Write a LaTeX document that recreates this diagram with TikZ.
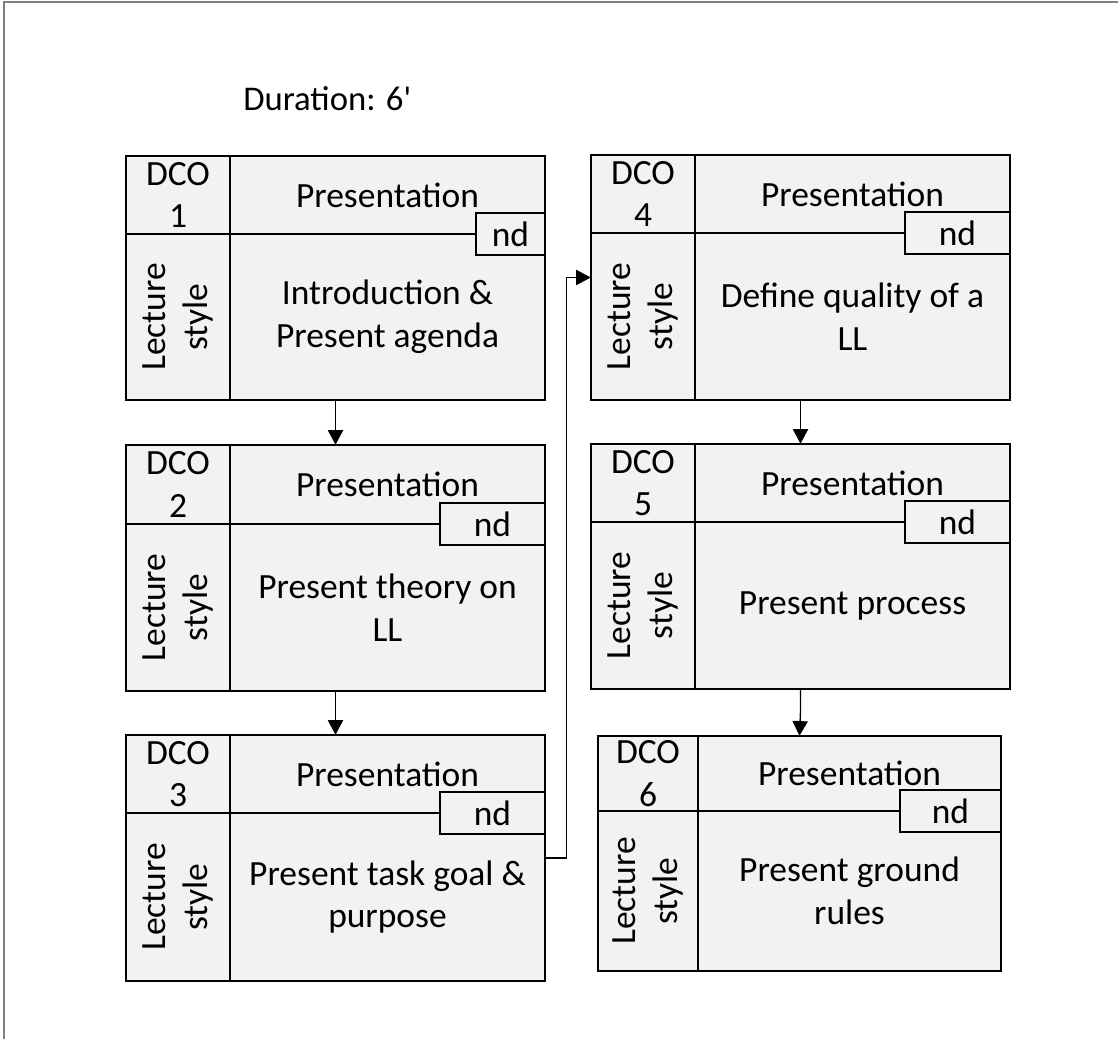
\documentclass[tikz,border=0pt]{standalone}
\usepackage{fontspec}
\setmainfont{Carlito}
\newfontfamily\plainfont{Carlito}
\usetikzlibrary{arrows.meta}
\definecolor{boxfill}{HTML}{F2F2F2}
\definecolor{framegray}{HTML}{808080}
\tikzset{
  dcobox/.style={fill=boxfill, draw=none, inner sep=0pt},
  outerline/.style={draw=black, line width=1.7pt},
  divider/.style={draw=black, line width=1.1pt},
  ndbox/.style={fill=boxfill, draw=black, line width=1.1pt, inner sep=0pt,
    minimum height={42*0.75pt}, font=\fontsize{26.6}{32}\selectfont},
  txt/.style={font=\fontsize{26.6}{32}\selectfont, align=center, inner sep=0pt},
  conn/.style={draw=black, line width=1pt, -{Triangle[length=11pt,width=11.5pt]}},
}
% #1 number, #2 left, #3 top, #4 right, #5 bottom, #6 column divider x, #7 header line y, #8 nd left, #9 activity
\newcommand{\dcoitem}[9]{%
  \node[dcobox, minimum width={(#4-#2)*0.75pt}, minimum height={(#5-#3)*0.75pt}] (b#1) at ({(#2+#4)/2},{(#3+#5)/2}) {};
  \draw[divider] (#6,#3) -- (#6,#5);
  \draw[divider] (#2,#7) -- (#8,#7);
  \node[txt] (dco#1) at ({(#2+#6)/2},{(#3+#7)/2}) {DCO\\#1};
  \node[txt] (pr#1) at ({(#6+#4)/2},{(#3+#7)/2}) {Presentation};
  \node[ndbox, minimum width={(#4-#8)*0.75pt}] (nd#1) at ({(#8+#4)/2},#7) {nd};
  \node[txt, rotate=90] (ls#1) at ({(#2+#6)/2},{(#7+#5)/2}) {Lecture\\style};
  \node[txt] (ac#1) at ({(#6+#4)/2},{(#7+#5)/2}) {#9};
  \draw[outerline] (b#1.south west) rectangle (b#1.north east);
}
\begin{document}
\begin{tikzpicture}[x=0.75pt, y=-0.75pt]
\useasboundingbox (0,0) rectangle (1118,1039);
\draw[framegray, line width=1.2pt] (4,1039) -- (4,2) -- (1118,2);
\node[anchor=base west, inner sep=0pt, font=\plainfont\fontsize{26}{31.5}\selectfont] (dur) at (243,110) {Duration: 6'};
\dcoitem{1}{126}{156}{545}{400}{230}{234}{476}{Introduction \&\\Present agenda}
\dcoitem{2}{126}{445}{545}{691}{230}{524}{440}{Present theory on\\LL}
\dcoitem{3}{126}{735}{545}{981}{230}{813}{440}{Present task goal \&\\purpose}
\dcoitem{4}{591}{155}{1010}{400}{695}{233}{905}{Define quality of a\\LL}
\dcoitem{5}{591}{444}{1010}{689}{695}{522}{905}{Present process}
\dcoitem{6}{598}{736}{1001}{971}{698}{811}{900}{Present ground\\rules}
\draw[conn] (b1.south) -- (b2.north);
\draw[conn] (b2.south) -- (b3.north);
\draw[conn] (b3.east) -- ++(21,0) |- (b4.west);
\draw[conn] (b4.south) -- (b5.north);
\draw[conn] (b5.south) -- ++(0,22) -- (b6.north);
\end{tikzpicture}
\end{document}
